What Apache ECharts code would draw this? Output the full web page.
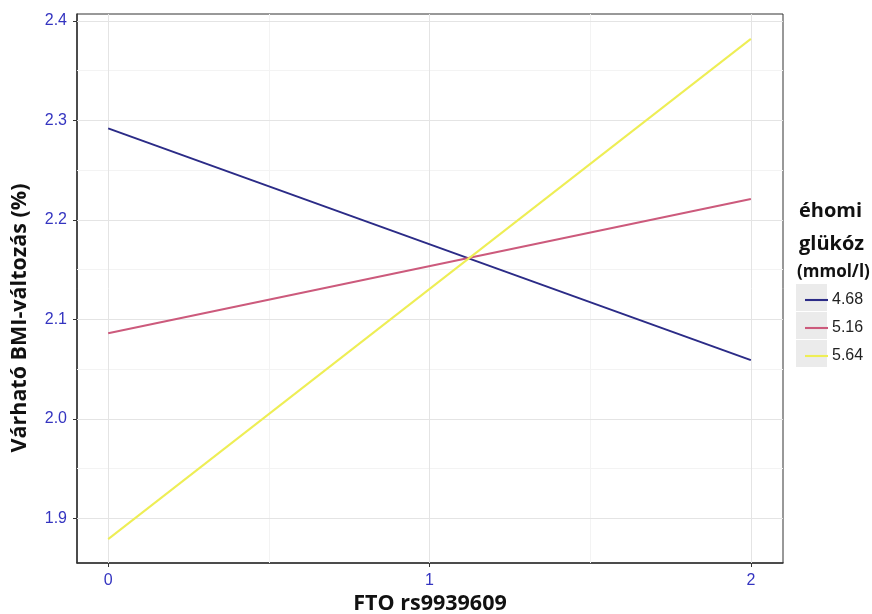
<!DOCTYPE html>
<html><head><meta charset="utf-8">
<script src="https://cdn.jsdelivr.net/npm/echarts@6/dist/echarts.min.js"></script>
<style>html,body{margin:0;padding:0;background:#fff}#c{width:872px;height:614px}</style>
</head><body><div id="c"></div>
<script>
const xValues = [0, 2];
const seriesNames = ['4.68', '5.16', '5.64'];
const blueVals = [2.292, 2.059];
const pinkVals = [2.086, 2.221];
const yellowVals = [1.879, 2.382];
const xTicks = [0, 1, 2];
const xMinor = [0.5, 1.5];
const yTicks = [1.9, 2.0, 2.1, 2.2, 2.3, 2.4];
const yMinor = [1.95, 2.05, 2.15, 2.25, 2.35];
const colors = ['#2b2b87', '#cc5a7c', '#eeee55'];

const chart = echarts.init(document.getElementById('c'));
const mk = (vals) => vals.map((v, i) => [xValues[i], v]);
const gridMarks = [].concat(
  xMinor.map(v => ({xAxis: v, lineStyle: {color: '#f3f3f3', width: 1, type: 'solid'}})),
  yMinor.map(v => ({yAxis: v, lineStyle: {color: '#f3f3f3', width: 1, type: 'solid'}})),
  xTicks.map(v => ({xAxis: v, lineStyle: {color: '#e4e4e4', width: 1, type: 'solid'}})),
  yTicks.map(v => ({yAxis: v, lineStyle: {color: '#e4e4e4', width: 1, type: 'solid'}}))
);
const titleFont = '"Open Sans", "DejaVu Sans", sans-serif';
const labelFont = '"Liberation Sans", Arial, sans-serif';
chart.setOption({
  animation: false,
  grid: {left: 77, right: 89, top: 14, bottom: 51, outerBoundsMode: 'none', containLabel: false,
    show: true, borderColor: '#333', borderWidth: 1, backgroundColor: '#fff'},
  xAxis: {
    type: 'value', min: -0.097, max: 2.1,
    name: 'FTO rs9939609', nameLocation: 'middle', nameGap: 30, nameMoveOverlap: false,
    nameTextStyle: {fontFamily: titleFont, fontWeight: 'bold', fontSize: 21.5, color: '#111'},
    axisLine: {show: true, onZero: false, lineStyle: {color: '#333', width: 1.5}},
    axisTick: {show: true, customValues: xTicks, length: 4, lineStyle: {color: '#333'}},
    axisLabel: {customValues: xTicks, color: '#3434c0', fontSize: 16, fontFamily: labelFont, margin: 10},
    splitLine: {show: false}
  },
  yAxis: {
    type: 'value', min: 1.855, max: 2.407,
    axisLine: {show: true, onZero: false, lineStyle: {color: '#333', width: 1.5}},
    axisTick: {show: true, customValues: yTicks, length: 4, lineStyle: {color: '#333'}},
    axisLabel: {customValues: yTicks, color: '#3434c0', fontSize: 16, fontFamily: labelFont, margin: 10,
      formatter: v => v.toFixed(1)},
    splitLine: {show: false}
  },
  legend: {
    orient: 'vertical', left: 800, top: 287, itemGap: 12,
    itemWidth: 23, itemHeight: 16,
    data: seriesNames.map((n, i) => ({name: n, icon: 'path://M0,7H22V9H0Z'})),
    textStyle: {fontFamily: labelFont, fontSize: 16, color: '#222', padding: [0, 0, 0, -1]}
  },
  graphic: [
    {type: 'rect', z: -1, shape: {x: 796, y: 284, width: 31, height: 27}, style: {fill: '#ebebeb'}},
    {type: 'rect', z: -1, shape: {x: 796, y: 312, width: 31, height: 27}, style: {fill: '#ebebeb'}},
    {type: 'rect', z: -1, shape: {x: 796, y: 340, width: 31, height: 27}, style: {fill: '#ebebeb'}},
    {type: 'text', x: 20, y: 318, rotation: Math.PI / 2,
      style: {text: 'Várható BMI-változás (%)', font: 'bold 21.5px ' + titleFont, fill: '#111',
        align: 'center', verticalAlign: 'middle'}},
    {type: 'text', left: 799, top: 201, style: {text: 'éhomi', font: 'bold 20px ' + titleFont, fill: '#111'}},
    {type: 'text', left: 799, top: 234, style: {text: 'glükóz', font: 'bold 20px ' + titleFont, fill: '#111'}},
    {type: 'text', left: 797, top: 264, style: {text: '(mmol/l)', font: 'bold 17px ' + titleFont, fill: '#111'}}
  ],
  series: [
    {type: 'line', z: 1, silent: true, data: [], legendHoverLink: false,
      markLine: {z: 1, silent: true, symbol: 'none', label: {show: false}, data: gridMarks, animation: false}},
    ...seriesNames.map((n, i) => ({
      name: n, type: 'line', z: 3, data: mk([blueVals, pinkVals, yellowVals][i]),
      showSymbol: false, symbol: 'none', lineStyle: {color: colors[i], width: 2}, itemStyle: {color: colors[i]}
    }))
  ]
});
</script></body></html>
